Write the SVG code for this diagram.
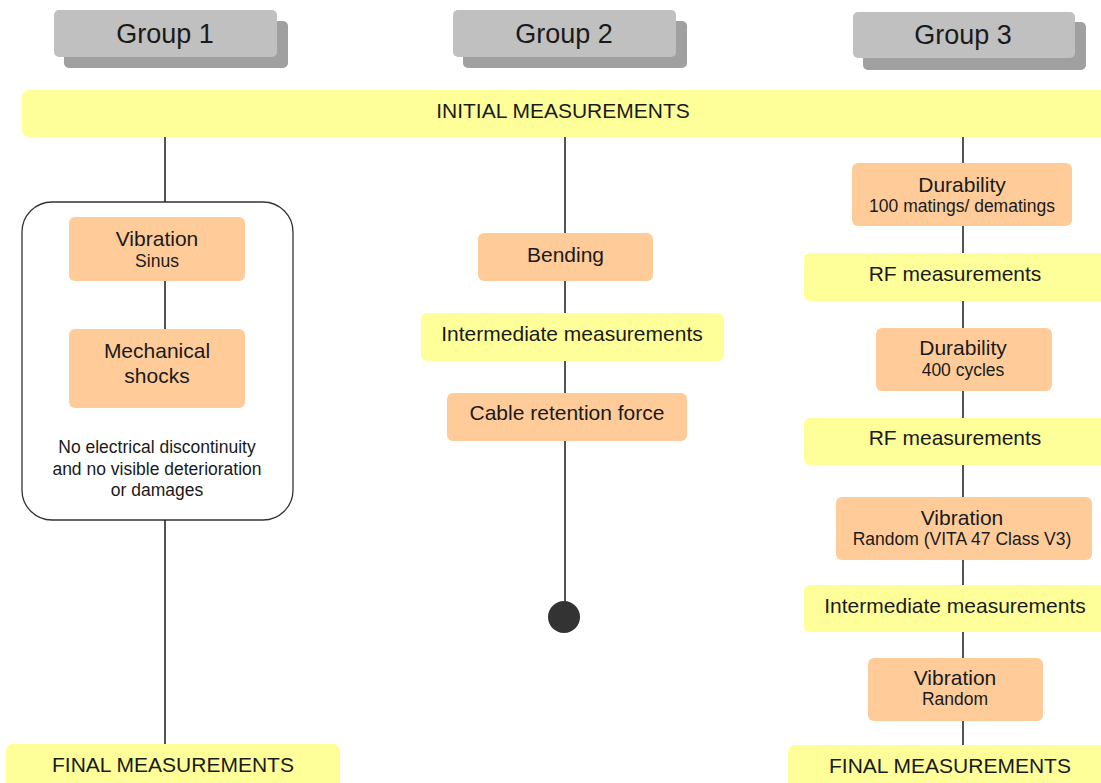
<svg xmlns="http://www.w3.org/2000/svg" width="1101" height="783" viewBox="0 0 1101 783">
<style>
text{font-family:"Liberation Sans",Arial,sans-serif;fill:#1a1a1a;text-anchor:middle}
.hdr{fill:#c0c0c0}
.shd{fill:#a0a0a0}
.ht{font-size:27px}
.yel{fill:#ffff99}
.org{fill:#ffcc99}
.t{font-size:21px}
.s{font-size:17.5px}
.n{font-size:17.5px}
.ln{stroke:#1a1a1a;stroke-width:1.5;fill:none}
</style>
<rect width="1101" height="783" fill="#ffffff"/>
<g id="g1-frame">
<rect x="22" y="202" width="271" height="318" rx="30" fill="#ffffff" stroke="#333333" stroke-width="1.3"/>
<text class="n" x="157" y="453">No electrical discontinuity</text>
<text class="n" x="157" y="475">and no visible deterioration</text>
<text class="n" x="157" y="496">or damages</text>
</g>
<g id="connectors">
<line class="ln" x1="165" y1="137" x2="165" y2="202"/>
<line class="ln" x1="165" y1="281" x2="165" y2="329"/>
<line class="ln" x1="165" y1="520" x2="165" y2="744"/>
<line class="ln" x1="565" y1="137" x2="565" y2="233"/>
<line class="ln" x1="565" y1="281" x2="565" y2="313"/>
<line class="ln" x1="565" y1="361" x2="565" y2="393"/>
<line class="ln" x1="565" y1="441" x2="565" y2="602"/>
<line class="ln" x1="963" y1="137" x2="963" y2="163"/>
<line class="ln" x1="963" y1="226" x2="963" y2="253"/>
<line class="ln" x1="963" y1="301" x2="963" y2="328"/>
<line class="ln" x1="963" y1="391" x2="963" y2="418"/>
<line class="ln" x1="963" y1="465" x2="963" y2="497"/>
<line class="ln" x1="963" y1="560" x2="963" y2="585"/>
<line class="ln" x1="963" y1="632" x2="963" y2="658"/>
<line class="ln" x1="963" y1="721" x2="963" y2="745"/>
</g>
<g id="group1">
<rect class="shd" x="64" y="21" width="224" height="47" rx="5"/>
<rect class="hdr" x="54" y="10" width="223" height="47" rx="5"/>
<text class="ht" x="165" y="43">Group 1</text>
</g>
<g id="group2">
<rect class="shd" x="463" y="21" width="224" height="47" rx="5"/>
<rect class="hdr" x="453" y="10" width="223" height="47" rx="5"/>
<text class="ht" x="564" y="43">Group 2</text>
</g>
<g id="group3">
<rect class="shd" x="863" y="22" width="223" height="48" rx="5"/>
<rect class="hdr" x="853" y="12" width="222" height="46" rx="5"/>
<text class="ht" x="963" y="44">Group 3</text>
</g>
<g id="initial">
<rect class="yel" x="22" y="90" width="1090" height="47" rx="7"/>
<text class="t" x="563" y="118">INITIAL MEASUREMENTS</text>
</g>
<g id="g1-vibration">
<rect class="org" x="69" y="217" width="176" height="64" rx="6"/>
<text class="t" x="157" y="246">Vibration</text>
<text class="s" x="157" y="267">Sinus</text>
</g>
<g id="g1-shocks">
<rect class="org" x="69" y="329" width="176" height="79" rx="6"/>
<text class="t" x="157" y="358">Mechanical</text>
<text class="t" x="157" y="383">shocks</text>
</g>
<g id="g1-final">
<rect class="yel" x="6" y="744" width="334" height="50" rx="7"/>
<text class="t" x="173" y="772">FINAL MEASUREMENTS</text>
</g>
<g id="g2-bending">
<rect class="org" x="478" y="233" width="175" height="48" rx="6"/>
<text class="t" x="565.5" y="262">Bending</text>
</g>
<g id="g2-intermediate">
<rect class="yel" x="421" y="313" width="303" height="48" rx="6"/>
<text class="t" x="572" y="341">Intermediate measurements</text>
</g>
<g id="g2-cable">
<rect class="org" x="447" y="393" width="240" height="48" rx="6"/>
<text class="t" x="567" y="420">Cable retention force</text>
</g>
<g id="g2-end">
<circle cx="564" cy="617" r="16" fill="#333333"/>
</g>
<g id="g3-durability1">
<rect class="org" x="852" y="163" width="220" height="63" rx="6"/>
<text class="t" x="962" y="192">Durability</text>
<text class="s" x="962" y="212">100 matings/ dematings</text>
</g>
<g id="g3-rf1">
<rect class="yel" x="804" y="253" width="310" height="48" rx="6"/>
<text class="t" x="955" y="281">RF measurements</text>
</g>
<g id="g3-durability2">
<rect class="org" x="876" y="328" width="176" height="63" rx="6"/>
<text class="t" x="963" y="355">Durability</text>
<text class="s" x="963" y="376">400 cycles</text>
</g>
<g id="g3-rf2">
<rect class="yel" x="804" y="418" width="310" height="47" rx="6"/>
<text class="t" x="955" y="445">RF measurements</text>
</g>
<g id="g3-vibration1">
<rect class="org" x="836" y="497" width="256" height="63" rx="6"/>
<text class="t" x="962" y="525">Vibration</text>
<text class="s" x="962" y="545">Random (VITA 47 Class V3)</text>
</g>
<g id="g3-intermediate">
<rect class="yel" x="804" y="585" width="310" height="47" rx="6"/>
<text class="t" x="955" y="613">Intermediate measurements</text>
</g>
<g id="g3-vibration2">
<rect class="org" x="868" y="658" width="175" height="63" rx="6"/>
<text class="t" x="955" y="685">Vibration</text>
<text class="s" x="955" y="705">Random</text>
</g>
<g id="g3-final">
<rect class="yel" x="788" y="745" width="330" height="50" rx="7"/>
<text class="t" x="950" y="773">FINAL MEASUREMENTS</text>
</g>
</svg>
